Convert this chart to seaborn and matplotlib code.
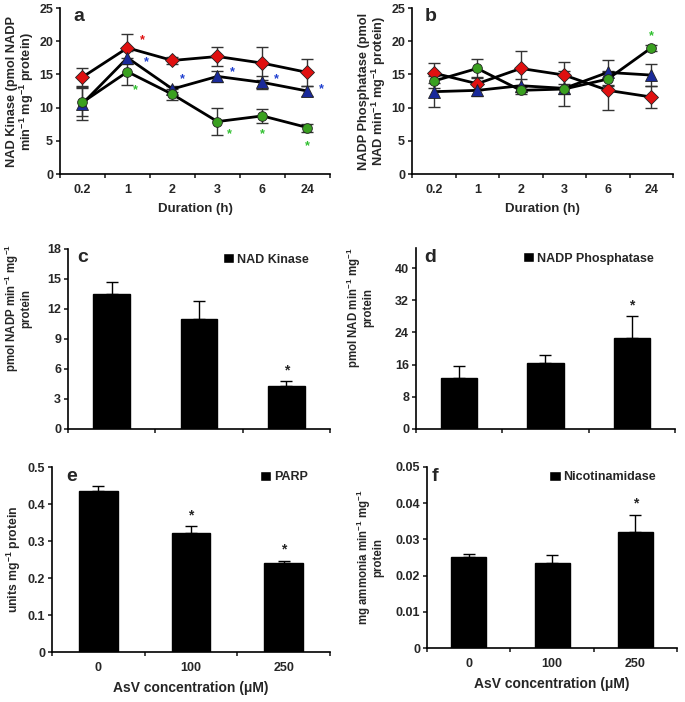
import numpy as np
import pandas as pd
import seaborn as sns
import matplotlib.pyplot as plt
from matplotlib.patches import Patch

sns.set_style("ticks")
plt.rcParams['font.family'] = ['Liberation Sans', 'DejaVu Sans']
plt.rcParams['font.weight'] = 'bold'
plt.rcParams['mathtext.fontset'] = 'custom'
plt.rcParams['mathtext.rm'] = 'Liberation Sans:bold'
plt.rcParams['mathtext.it'] = 'Liberation Sans:bold'
plt.rcParams['mathtext.bf'] = 'Liberation Sans:bold'

# time course data (panels a, b)
durations = ["0.2", "1", "2", "3", "6", "24"]

nadk_red = [14.6, 19.0, 17.1, 17.7, 16.7, 15.3]
nadk_red_err = [1.4, 2.1, 0.5, 1.5, 2.5, 2.0]
nadk_blue = [10.6, 17.5, 12.8, 14.7, 13.8, 12.5]
nadk_blue_err = [2.5, 1.0, 0.5, 0.8, 1.0, 0.7]
nadk_green = [10.8, 15.4, 12.0, 7.9, 8.75, 7.0]
nadk_green_err = [2.1, 2.0, 0.8, 2.0, 1.1, 0.6]

nadpp_red = [15.2, 13.6, 15.9, 14.9, 12.6, 11.6]
nadpp_red_err = [1.5, 1.0, 2.6, 1.9, 2.9, 1.6]
nadpp_blue = [12.4, 12.6, 13.3, 12.9, 15.3, 14.9]
nadpp_blue_err = [2.3, 0.9, 1.0, 2.6, 1.9, 1.7]
nadpp_green = [14.0, 15.9, 12.6, 12.8, 14.3, 19.0]
nadpp_green_err = [1.0, 1.4, 0.5, 0.8, 1.0, 0.5]

# significance stars (x in category units, y in data units)
a_stars_red = [(1.33, 20.1)]
a_stars_blue = [(1.41, 16.9), (2.22, 14.3), (3.33, 15.3), (4.32, 14.3), (5.32, 12.8)]
a_stars_green = [(1.17, 12.7), (3.27, 6.0), (4.0, 6.0), (5.0, 4.2)]
b_stars_green = [(5.0, 20.7)]

# dose response data (panels c-f)
conc = ["0", "100", "250"]
nadk_dose = [13.5, 11.0, 4.3]
nadk_dose_err = [1.2, 1.8, 0.5]
nadpp_dose = [12.8, 16.5, 22.7]
nadpp_dose_err = [2.9, 1.9, 5.3]
parp_dose = [0.436, 0.323, 0.241]
parp_dose_err = [0.012, 0.017, 0.006]
nic_dose = [0.0252, 0.0236, 0.0321]
nic_dose_err = [0.0009, 0.002, 0.0047]

fig = plt.figure(figsize=(6.85, 7.02), dpi=100)

FS = 9


def style_axis(ax):
    sns.despine(ax=ax)
    for s in ['left', 'bottom']:
        ax.spines[s].set_linewidth(1.2)
        ax.spines[s].set_color('black')
    ax.tick_params(axis='y', direction='out', length=3, width=1.2, labelsize=FS, pad=2)
    ax.tick_params(axis='x', which='major', direction='out', length=3, width=1.2, labelsize=FS)


def time_panel(ax, series, letter, ylabel, stars):
    pos = np.arange(len(durations))
    for vals, errs, color, mk, ms in series:
        ax.errorbar(pos, vals, yerr=errs, fmt='none', ecolor='#333333', elinewidth=1, capsize=4, capthick=1, zorder=2)
        sns.lineplot(x=pos, y=vals, ax=ax, color='black', lw=2, marker=mk, markersize=ms,
                     markerfacecolor=color, markeredgecolor='#222222', markeredgewidth=0.6, zorder=3)
    for pts, color in stars:
        for sx, sy in pts:
            ax.text(sx, sy, "*", color=color, fontsize=9, ha='center', va='center')
    ax.set_xlim(-0.5, len(durations) - 0.5)
    ax.set_ylim(0, 25)
    ax.set_yticks([0, 5, 10, 15, 20, 25])
    ax.set_xticks(np.arange(len(durations) + 1) - 0.5)
    ax.set_xticklabels([])
    ax.set_xticks(pos, minor=True)
    ax.set_xticklabels(durations, minor=True)
    ax.tick_params(axis='x', which='minor', length=0, labelsize=FS, pad=7)
    ax.set_xlabel("Duration (h)", fontsize=9.5, fontweight='bold', labelpad=5)
    ax.set_ylabel(ylabel, fontsize=9.2, fontweight='bold', labelpad=2, linespacing=1.0)
    ax.text(0.05, 0.95, letter, transform=ax.transAxes, fontsize=14, fontweight='bold', va='center')


def bar_panel(ax, vals, errs, letter, letter_x, ylabel, ylab_fs, ylab_xy, legend, ylim, yticks, stars,
              xlabels=True):
    df = pd.DataFrame({'conc': conc, 'val': vals})
    sns.barplot(data=df, x='conc', y='val', color='black', width=0.42, ax=ax, saturation=1,
                edgecolor='black')
    pos = np.arange(len(conc))
    ax.errorbar(pos, vals, yerr=[np.zeros(len(errs)), errs], fmt='none', ecolor='black',
                elinewidth=1, capsize=4, capthick=1, zorder=3)
    for i in stars:
        ax.text(pos[i], vals[i] + errs[i] + (ylim[1] * 0.06), "*", fontsize=10, ha='center', va='center')
    ax.set_xlim(-0.5, len(conc) - 0.5)
    ax.set_ylim(*ylim)
    ax.set_yticks(yticks)
    ax.set_yticklabels([f"{t:g}" for t in yticks])
    ax.set_xticks(np.arange(len(conc) + 1) - 0.5)
    ax.set_xticklabels([])
    ax.set_xticks(pos, minor=True)
    ax.set_xticklabels(conc if xlabels else [], minor=True)
    ax.tick_params(axis='x', which='minor', length=0, labelsize=FS, pad=7)
    ax.set_xlabel("AsV concentration (μM)" if xlabels else "", fontsize=10, fontweight='bold', labelpad=5)
    ax.set_ylabel(ylabel, fontsize=ylab_fs, fontweight='bold', linespacing=1.0)
    ax.yaxis.set_label_coords(*ylab_xy)
    ax.text(letter_x, 0.95, letter, transform=ax.transAxes, fontsize=14, fontweight='bold', va='center')
    ax.legend(handles=[Patch(facecolor='black')], labels=[legend], frameon=False, loc='upper right',
              bbox_to_anchor=(0.96, 1.04), handlelength=0.9, handleheight=0.9, handletextpad=0.2,
              prop={'weight': 'bold', 'size': 9})


ax_a = fig.add_axes([0.0876, 0.7521, 0.394, 0.2365])
style_axis(ax_a)
time_panel(ax_a,
           [(nadk_red, nadk_red_err, '#e01010', 'D', 7),
            (nadk_blue, nadk_blue_err, '#1a2a9a', '^', 9),
            (nadk_green, nadk_green_err, '#3aa020', 'o', 7)],
           'a', "NAD Kinase (pmol NADP\nmin$^{-1}$ mg$^{-1}$ protein)",
           [(a_stars_red, '#e01010'), (a_stars_blue, '#2040d0'), (a_stars_green, '#30c030')])

ax_b = fig.add_axes([0.6015, 0.7521, 0.381, 0.2365])
style_axis(ax_b)
time_panel(ax_b,
           [(nadpp_red, nadpp_red_err, '#e01010', 'D', 7),
            (nadpp_blue, nadpp_blue_err, '#1a2a9a', '^', 9),
            (nadpp_green, nadpp_green_err, '#3aa020', 'o', 7)],
           'b', "NADP Phosphatase (pmol\nNAD min$^{-1}$ mg$^{-1}$ protein)",
           [(b_stars_green, '#30c030')])

ax_c = fig.add_axes([0.0993, 0.3889, 0.3825, 0.2564])
style_axis(ax_c)
bar_panel(ax_c, nadk_dose, nadk_dose_err, 'c', 0.035, "pmol NADP min$^{-1}$ mg$^{-1}$\nprotein", 8.3,
          (-0.135, 0.67), "NAD Kinase", (0, 18), [0, 3, 6, 9, 12, 15, 18], [2], xlabels=False)

ax_d = fig.add_axes([0.6073, 0.3889, 0.3781, 0.2578])
style_axis(ax_d)
bar_panel(ax_d, nadpp_dose, nadpp_dose_err, 'd', 0.03, "pmol NAD min$^{-1}$ mg$^{-1}$\nprotein", 8.3,
          (-0.16, 0.67), "NADP Phosphatase", (0, 45), [0, 8, 16, 24, 32, 40], [2], xlabels=False)

ax_e = fig.add_axes([0.0759, 0.0712, 0.4058, 0.2635])
style_axis(ax_e)
bar_panel(ax_e, parp_dose, parp_dose_err, 'e', 0.05, "units mg$^{-1}$ protein", 8.8,
          (-0.105, 0.5), "PARP", (0, 0.5), [0, 0.1, 0.2, 0.3, 0.4, 0.5], [1, 2])

ax_f = fig.add_axes([0.6234, 0.0769, 0.365, 0.2579])
style_axis(ax_f)
bar_panel(ax_f, nic_dose, nic_dose_err, 'f', 0.02, "mg ammonia min$^{-1}$ mg$^{-1}$\nprotein", 8.3,
          (-0.17, 0.5), "Nicotinamidase", (0, 0.05), [0, 0.01, 0.02, 0.03, 0.04, 0.05], [2])

fig.savefig("out.png", dpi=100)
